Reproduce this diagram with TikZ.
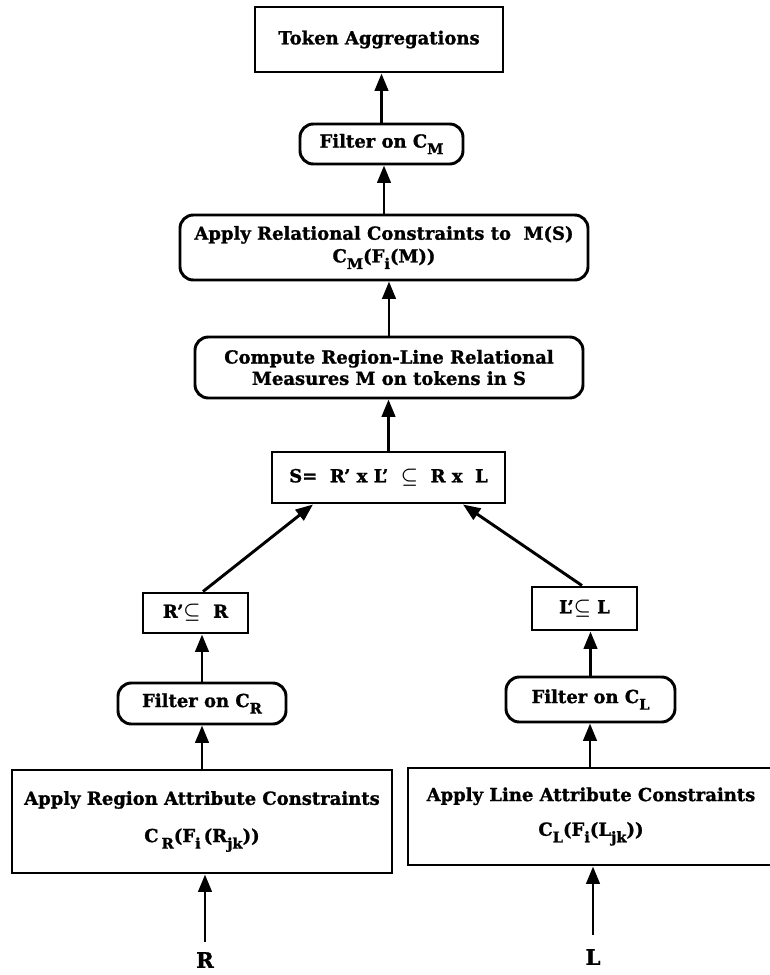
\documentclass[tikz,border=0pt]{standalone}
\usepackage{fontspec}
\setmainfont{DejaVu Serif}[BoldFeatures={FakeBold=1.2}]
\usetikzlibrary{arrows.meta,calc}
\newcommand\lowsub[1]{\raisebox{-0.7ex}{\fontsize{11}{11}\selectfont #1}}
\newcommand\sbq{{\boldmath$\subseteq$}}
\begin{document}
\begin{tikzpicture}[x=0.75pt,y=-0.75pt,
  box/.style={draw,line width=2.2pt,inner sep=0pt,align=center,
    font=\bfseries\fontsize{13.5}{15}\selectfont},
  sq/.style={box},
  rnd/.style={box,rounded corners=10pt},
  arr/.style={line width=2.2pt,-{Triangle[length=13pt,width=10pt]}},
  lbl/.style={inner sep=0pt,font=\bfseries\fontsize{16}{16}\selectfont}]
\clip (0,0) rectangle (770,975);
\fill[white] (0,0) rectangle (770,975);
% nodes
\node[sq,minimum width=186pt,minimum height=48.75pt] (tok) at (379,39.5) {Token Aggregations};
\node[rnd,minimum width=122.25pt,minimum height=30pt] (fcm) at (381.5,144) {Filter on C\lowsub{M}};
\node[rnd,minimum width=306pt,minimum height=48.75pt] (rel) at (384,247.5)
  {Apply Relational Constraints to\ \ M(S)\\[2pt] C\lowsub{M}(F\lowsub{i}(M))};
\node[rnd,minimum width=291pt,minimum height=45.75pt] (comp) at (389,367.5)
  {Compute Region-Line Relational\\[1pt] Measures M on tokens in S};
\node[sq,minimum width=174.75pt,minimum height=38.25pt] (S) at (388.5,477.5)
  {S=\ \ R' x L'\ \ \sbq\ \ R x\ \ L};
\node[sq,minimum width=78.75pt,minimum height=30pt] (rp) at (195.5,613) {R'\sbq\ \ R};
\node[sq,minimum width=78.75pt,minimum height=32.25pt] (lp) at (584.5,608.5) {L'\sbq\ L};
\node[rnd,minimum width=126pt,minimum height=30.75pt] (fcr) at (202,703.5) {Filter on C\lowsub{R}};
\node[rnd,minimum width=126.75pt,minimum height=33.75pt] (fcl) at (590.5,699.5) {Filter on C\lowsub{L}};
\node[sq,minimum width=285pt,minimum height=77.25pt] (reg) at (202,821.5)
  {Apply Region Attribute Constraints\\[13pt] C\,\lowsub{R}(F\lowsub{i}\,(R\lowsub{jk}))};
\node[sq,minimum width=274.5pt,minimum height=72.75pt] (line) at (591,816.5)
  {Apply Line Attribute Constraints\\[11pt] C\lowsub{L}(F\lowsub{i}(L\lowsub{jk}))};
\node[lbl] (R) at (205,960) {R};
\node[lbl] (L) at (593,957) {L};
\coordinate (lt) at ($(line.north)+(-1,0)$);
\coordinate (rpt) at ($(rp.north)+(7.5,0)$);
\coordinate (lpt) at ($(lp.north)+(-2.5,0)$);
\coordinate (sl) at ($(S.south)+(-75.5,0)$);
\coordinate (sr) at ($(S.south)+(74.5,0)$);
\coordinate (rtail) at ($(R.north)+(0,-10)$);
\coordinate (ltail) at ($(L.north)+(0,-14)$);
% connectors
\draw[arr] (fcm.north) -- (fcm.north |- tok.south);
\draw[arr] (rel.north) -- (rel.north |- fcm.south);
\draw[arr] (comp.north) -- (comp.north |- rel.south);
\draw[arr] (S.north) -- (S.north |- comp.south);
\draw[arr] (rpt) -- (sl);
\draw[arr] (lpt) -- (sr);
\draw[arr] (fcr.north) -- (fcr.north |- rp.south);
\draw[arr] (fcl.north) -- (fcl.north |- lp.south);
\draw[arr] (reg.north) -- (reg.north |- fcr.south);
\draw[arr] (lt) -- (lt |- fcl.south);
\draw[arr] (rtail) -- (rtail |- reg.south);
\draw[arr] (ltail) -- (ltail |- line.south);
\end{tikzpicture}
\end{document}
